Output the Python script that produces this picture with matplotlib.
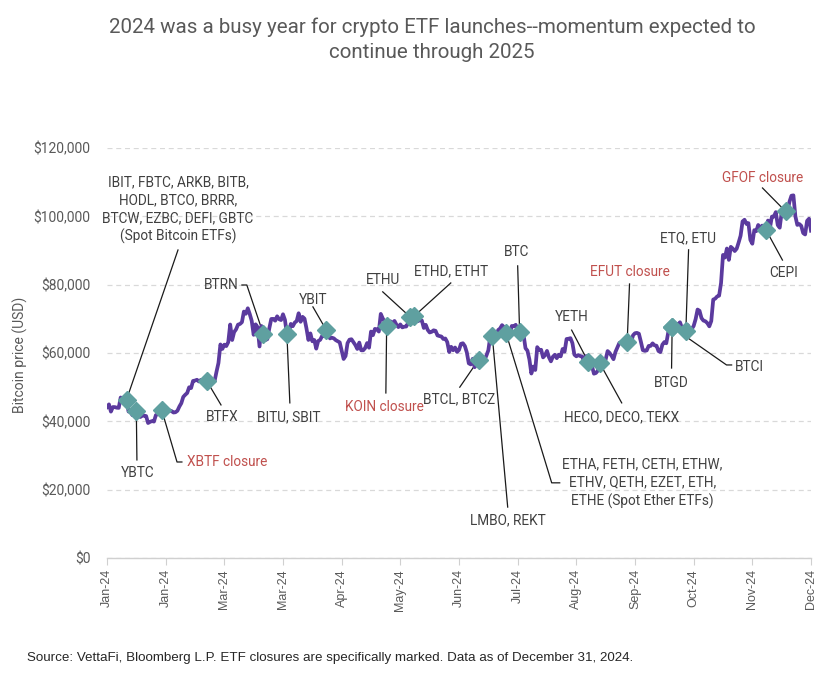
import matplotlib
matplotlib.use("Agg")
import matplotlib.pyplot as plt
import matplotlib.dates as mdates
import pandas as pd

# ---------------- data ----------------
jan = [44168, 44957, 42848, 44179, 44162, 43989, 43943, 46970, 46139, 46627, 46368, 42853, 42842, 41796, 42511,
       43154, 42742, 41262, 41619, 41665, 41545, 39507, 39845, 40077, 39934, 41816, 42121, 42035, 43289, 42952, 42582]
feb = [43075, 43185, 42993, 42583, 42658, 43084, 44318, 45301, 47147, 47771, 48293, 49958, 49742, 51826, 51939,
       52160, 51663, 52122, 51779, 52284, 51839, 51304, 50731, 51572, 51733, 54522, 57085, 62504, 61198]
mar = [62440, 62029, 63168, 68330, 63801, 66106, 66925, 68300, 68498, 69020, 72123, 71481, 73084, 71397, 69403,
       65316, 68390, 67548, 61912, 67913, 65491, 63779, 64062, 67234, 69958, 69987, 69455, 70744, 69892, 69645, 71333]
apr = [69702, 65446, 65980, 68508, 67837, 68897, 69362, 71631, 69139, 70587, 70060, 67195, 63822, 65738, 63426,
       63811, 61276, 63512, 63843, 64994, 64927, 66837, 66408, 64276, 64482, 64276, 63756, 63420, 63114, 60637]
may = [58254, 59123, 62889, 63892, 64031, 63162, 62334, 61187, 63050, 60793, 60793, 61448, 62901, 61553, 66267,
       65231, 67051, 66940, 66278, 71448, 70137, 69122, 67929, 68526, 69265, 68518, 69395, 68296, 67578, 68364, 67491]
jun = [67706, 67751, 68804, 70567, 71082, 70757, 69342, 69305, 69648, 69512, 67332, 68241, 66756, 66011, 66191,
       66639, 66490, 65140, 64960, 64828, 64096, 64252, 63180, 60277, 61804, 60811, 61604, 60320, 60887, 62678]
jul = [62851, 62029, 60173, 56977, 56662, 58303, 55849, 56705, 58009, 57742, 57344, 57899, 59231, 60787, 64870,
       65097, 64118, 63974, 66710, 67164, 68154, 67586, 65927, 65372, 65777, 67912, 67813, 68255, 66819, 66201, 64619]
aug = [65357, 61415, 60680, 58116, 53991, 56034, 55027, 61710, 60880, 60945, 58719, 59354, 60609, 58737, 57560,
       58894, 59478, 58483, 59493, 59012, 61175, 60381, 64094, 64178, 64333, 62880, 59504, 59027, 59388, 59119, 58970]
sep = [57326, 59113, 57485, 57970, 56160, 53949, 54140, 54842, 57020, 57649, 57344, 58127, 60571, 60005, 59182,
       58192, 60309, 61649, 62940, 63192, 63395, 63579, 63339, 64262, 63143, 65181, 65790, 65888, 65635, 63329]
oct_ = [60837, 60632, 60759, 62068, 62089, 62819, 62236, 62131, 60582, 60274, 62445, 63193, 62851, 66046, 67041,
        67612, 67399, 68418, 68362, 69001, 67367, 67361, 66432, 68161, 66642, 67014, 67929, 69907, 72720, 72339, 70215]
nov = [69482, 69289, 68741, 67811, 69359, 75639, 75904, 76545, 76778, 80474, 88701, 87955, 90585, 87250, 91067,
       90558, 89845, 90543, 92343, 94339, 98504, 98997, 97778, 98013, 93102, 91986, 95962, 95652, 97461, 96449]
dec = [97279, 95865, 96002, 98768, 96593, 99920, 99924, 101236, 97432, 96675, 101173, 100043, 101459, 101372,
       104298, 106030, 106140, 100041, 97490, 97755, 97225, 95104, 94686, 98676, 99300, 95795]

start_date = "2024-01-01"
end_date = "2024-12-26"

tick_labels = ["Jan-24", "Jan-24", "Mar-24", "Mar-24", "Apr-24", "May-24", "Jun-24",
               "Jul-24", "Aug-24", "Sep-24", "Oct-24", "Nov-24", "Dec-24"]
y_ticks = [0, 20000, 40000, 60000, 80000, 100000, 120000]
y_tick_labels = ["$0", "$20,000", "$40,000", "$60,000", "$80,000", "$100,000", "$120,000"]

event_labels = [
    "IBIT, FBTC, ARKB, BITB,\nHODL, BTCO, BRRR,\nBTCW, EZBC, DEFI, GBTC\n(Spot Bitcoin ETFs)",
    "YBTC", "XBTF closure", "BTFX", "BTRN", "BITU, SBIT", "YBIT", "KOIN closure",
    "ETHU", "ETHD, ETHT", "BTCL, BTCZ", "LMBO, REKT",
    "ETHA, FETH, CETH, ETHW,\nETHV, QETH, EZET, ETH,\nETHE (Spot Ether ETFs)",
    "BTC", "YETH", "HECO, DECO, TEKX", "EFUT closure", "BTGD", "ETQ, ETU", "BTCI",
    "CEPI", "GFOF closure",
]
event_dates = [
    "2024-01-11", "2024-01-16", "2024-01-29", "2024-02-21", "2024-03-21", "2024-04-02", "2024-04-22",
    "2024-05-23", "2024-06-04", "2024-06-06", "2024-07-09", "2024-07-16", "2024-07-23", "2024-07-30",
    "2024-09-03", "2024-09-09", "2024-09-23", "2024-10-16", "2024-10-23", "2024-10-16",
    "2024-12-03", "2024-12-13",
]
event_closure = [False, False, True, False, False, False, False, True, False, False, False, False,
                 False, False, False, False, True, False, False, False, False, True]

# ---------------- layout (day offset from Jan 1, price level) ----------------
# text anchor, horizontal alignment, leader points (from text to marker)
layout = [
    ((36.3, 101900), "center", [(36.3, 90150)]),
    ((15.8, 24900), "center", [(15.3, 28700)]),
    ((40.9, 28100), "left", [(38.3, 28100), (35.8, 28100)]),
    ((58.8, 41300), "center", [(58.3, 44800)]),
    ((58.3, 79900), "center", [(69.0, 79900), (71.5, 79900)]),
    ((93.0, 41300), "center", [(93.5, 45400)]),
    ((105.3, 75500), "center", [(105.3, 73500)]),
    ((142.1, 44200), "center", [(142.6, 48300)]),
    ((141.0, 81400), "center", [(141.0, 77900)]),
    ((175.8, 84000), "center", [(175.8, 80500)]),
    ((179.9, 46500), "center", [(180.4, 50000)]),
    ((204.9, 11100), "center", [(204.9, 14900)]),
    ((273.9, 22000), "center", [(231.5, 22000), (227.4, 22000)]),
    ((209.5, 89600), "center", [(210.0, 85500)]),
    ((237.6, 70500), "center", [(237.6, 66700)]),
    ((263.2, 41300), "center", [(263.2, 45400)]),
    ((267.2, 83700), "center", [(267.2, 80200)]),
    ((288.7, 51200), "center", [(288.7, 55600)]),
    ((296.9, 93700), "center", [(297.4, 90200)]),
    ((320.9, 55900), "left", [(319.4, 56500), (316.8, 56500)]),
    ((345.9, 83400), "center", [(345.4, 87200)]),
    ((335.2, 111200), "center", [(335.2, 108300)]),
]

# ---------------- build ----------------
prices = jan + feb + mar + apr + may + jun + jul + aug + sep + oct_ + nov + dec
dates = pd.date_range(start_date, periods=len(prices), freq="D")
series = pd.Series(prices, index=dates)
ev_idx = pd.to_datetime(event_dates)
ev_vals = series.loc[ev_idx].values

x0 = mdates.date2num(pd.Timestamp(start_date))

ANN_FONT = ["Roboto", "DejaVu Sans"]
GRAY = "#595959"
TXT = "#404040"
RED = "#C0504D"

fig = plt.figure(figsize=(8.28, 6.9), dpi=100)
ax = fig.add_axes([107 / 828, 1 - 558 / 690, (811 - 107) / 828, (558 - 148) / 690])

ax.plot(mdates.date2num(series.index), series.values, color="#5B3A9E", lw=2.7,
        solid_joinstyle="round", zorder=3)

for (tpos, ha, pts), lab, d, v, closure in zip(layout, event_labels, ev_idx, ev_vals, event_closure):
    xs = [x0 + p[0] for p in pts] + [mdates.date2num(d)]
    ys = [p[1] for p in pts] + [v]
    ax.plot(xs, ys, color="#1a1a1a", lw=0.9, zorder=2, clip_on=False)
    ax.text(x0 + tpos[0], tpos[1], lab, ha=ha, va="center", fontsize=9.8,
            color=RED if closure else TXT, family=ANN_FONT, linespacing=1.35,
            multialignment="center", zorder=5)

ax.plot(mdates.date2num(ev_idx), ev_vals, "D", ms=9, color="#5FA0A0", mec="#5FA0A0",
        ls="none", zorder=4)

ax.set_xlim(x0, mdates.date2num(pd.Timestamp(end_date)))
ax.set_ylim(0, 120000)

tick_pos = mdates.date2num(pd.date_range(start_date, end_date, freq="30D"))
ax.set_xticks(tick_pos)
ax.set_xticklabels(tick_labels, rotation=90, fontsize=9, color=GRAY,
                   family=["Liberation Sans", "DejaVu Sans"])
ax.set_yticks(y_ticks)
ax.set_yticklabels(y_tick_labels, fontsize=10, color=GRAY, family=ANN_FONT)
ax.tick_params(axis="y", length=0, pad=12)
ax.tick_params(axis="x", length=5, color="#d0d0d0", pad=3)

ax.yaxis.grid(True, linestyle=(0, (4, 3)), color="#d9d9d9", lw=0.9)
ax.set_axisbelow(True)
for s in ["top", "right", "left"]:
    ax.spines[s].set_visible(False)
ax.spines["bottom"].set_color("#d0d0d0")
ax.spines["bottom"].set_linewidth(1.0)

fig.text(20 / 828, 1 - 355 / 690, "Bitcoin price (USD)", rotation=90, ha="center", va="center",
         fontsize=10, color=GRAY, family=ANN_FONT)

fig.text(432 / 828, 1 - 40 / 690,
         "2024 was a busy year for crypto ETF launches--momentum expected to\ncontinue through 2025",
         ha="center", va="center", fontsize=14.8, color=GRAY, linespacing=1.4,
         family=["Roboto", "DejaVu Sans"])

fig.text(27 / 828, 1 - 658 / 690,
         "Source: VettaFi, Bloomberg L.P. ETF closures are specifically marked. Data as of December 31, 2024.",
         ha="left", va="center", fontsize=9.6, color="#262626",
         family=["Liberation Sans", "DejaVu Sans"])

fig.savefig("out.png", dpi=100, facecolor="white")
